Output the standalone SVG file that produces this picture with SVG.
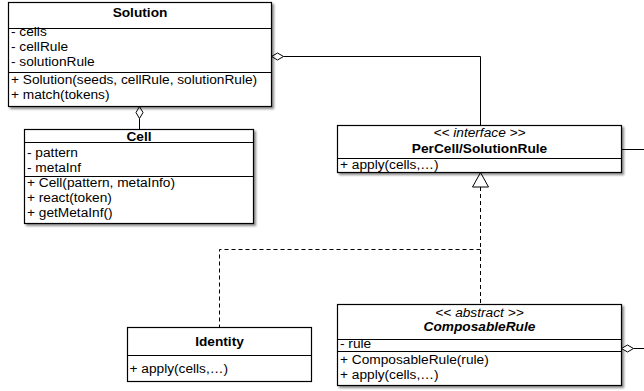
<svg xmlns="http://www.w3.org/2000/svg" width="644" height="391" viewBox="0 0 644 391">
<defs>
<filter id="sh" x="-5%" y="-5%" width="115%" height="120%">
<feDropShadow dx="2" dy="2" stdDeviation="1.3" flood-color="#000" flood-opacity="0.45"/>
</filter>
</defs>
<style>
text{font-family:"Liberation Sans",Arial,Helvetica,sans-serif;font-size:13.7px;fill:#000}
.t{font-weight:bold;text-anchor:middle}
.st{font-style:italic;text-anchor:middle}
.ab{font-weight:bold;font-style:italic;text-anchor:middle}
.box{fill:#fff;stroke:#000;stroke-width:1.2}
.div{stroke:#000;stroke-width:1.2;fill:none}
.ln{stroke:#000;stroke-width:1;fill:none}
.dash{stroke:#000;stroke-width:1;fill:none;stroke-dasharray:4 3}
.dia{fill:#fff;stroke:#000;stroke-width:1}
</style>
<g id="connectors">
<polyline class="ln" points="283.5,56.5 480.5,56.5 480.5,125.5"/>
<polygon class="dia" points="271.5,56.5 277.5,53 283.5,56.5 277.5,60"/>
<line class="ln" x1="139.5" y1="118.5" x2="139.5" y2="129.5"/>
<polygon class="dia" points="139.5,106.5 143,112.5 139.5,118.5 136,112.5"/>
<line class="ln" x1="621.5" y1="149.5" x2="644" y2="149.5"/>
<line class="dash" x1="480.5" y1="187" x2="480.5" y2="304.5"/>
<polyline class="dash" points="480.5,249.5 219.5,249.5 219.5,327.5"/>
<polygon class="dia" points="480.5,172.5 488.5,187 472.5,187"/>
<line class="ln" x1="633.5" y1="348.5" x2="644" y2="348.5"/>
</g>
<g id="solution">
<rect class="box" x="8.5" y="2.5" width="263" height="104" filter="url(#sh)"/>
<line class="div" x1="8.5" y1="28.5" x2="271.5" y2="28.5"/>
<line class="div" x1="8.5" y1="72.5" x2="271.5" y2="72.5"/>
<text class="t" x="140" y="17">Solution</text>
<text x="11" y="36">- cells</text>
<text x="11" y="51">- cellRule</text>
<text x="11" y="66">- solutionRule</text>
<text x="11" y="83.5">+ Solution(seeds, cellRule, solutionRule)</text>
<text x="11" y="98.5">+ match(tokens)</text>
</g>
<g id="cell">
<rect class="box" x="24.5" y="129.5" width="229" height="94" filter="url(#sh)"/>
<line class="div" x1="24.5" y1="142.5" x2="253.5" y2="142.5"/>
<line class="div" x1="24.5" y1="176.5" x2="253.5" y2="176.5"/>
<text class="t" x="139" y="140.5">Cell</text>
<text x="27" y="156.5">- pattern</text>
<text x="27" y="171.5">- metaInf</text>
<text x="27" y="187">+ Cell(pattern, metaInfo)</text>
<text x="27" y="202">+ react(token)</text>
<text x="27" y="217">+ getMetaInf()</text>
</g>
<g id="rule">
<rect class="box" x="337.5" y="125.5" width="284" height="47" filter="url(#sh)"/>
<line class="div" x1="337.5" y1="158.5" x2="621.5" y2="158.5"/>
<text class="st" x="479.5" y="137">&lt;&lt; interface &gt;&gt;</text>
<text class="t" x="479.5" y="153">PerCell/SolutionRule</text>
<text x="340" y="168.5">+ apply(cells,…)</text>
</g>
<g id="identity">
<rect class="box" x="127.5" y="327.5" width="184" height="54"/>
<line class="div" x1="127.5" y1="355.5" x2="311.5" y2="355.5"/>
<text class="t" x="219.5" y="345.5">Identity</text>
<text x="129.5" y="372.5">+ apply(cells,…)</text>
</g>
<g id="composable">
<rect class="box" x="337.5" y="304.5" width="284" height="81" filter="url(#sh)"/>
<line class="div" x1="337.5" y1="339.5" x2="621.5" y2="339.5"/>
<line class="div" x1="337.5" y1="351.5" x2="621.5" y2="351.5"/>
<text class="st" x="479.5" y="317">&lt;&lt; abstract &gt;&gt;</text>
<text class="ab" x="479.5" y="331">ComposableRule</text>
<text x="340" y="347.5">- rule</text>
<text x="340" y="363.5">+ ComposableRule(rule)</text>
<text x="340" y="379">+ apply(cells,…)</text>
<polygon class="dia" points="621.5,348.5 627.5,345 633.5,348.5 627.5,352"/>
</g>
</svg>
